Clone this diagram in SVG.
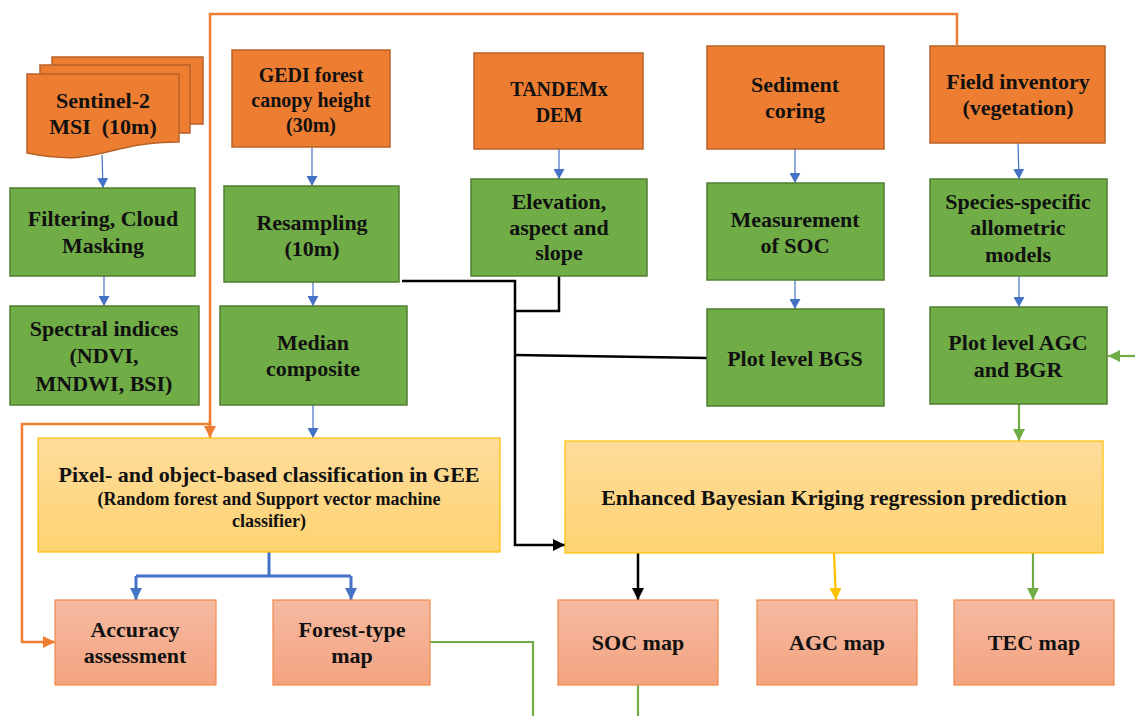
<svg xmlns="http://www.w3.org/2000/svg" width="1135" height="716" viewBox="0 0 1135 716">
<style>
.o{fill:#ED7D31;stroke:#B8622A;stroke-width:1.5}
.g{fill:#70AD47;stroke:#507E32;stroke-width:1.5}
.y{fill:url(#gy);stroke:#FFC000;stroke-width:1.2}
.s{fill:url(#gs);stroke:#F08A4B;stroke-width:1.2}
.t{font-family:"Liberation Serif","Times New Roman",serif;font-weight:bold;font-size:22px;fill:#111;text-anchor:middle}
.cb{stroke:#4472C4;stroke-width:1.2;fill:none;marker-end:url(#ab)}
.cbt{stroke:#4472C4;stroke-width:3;fill:none}
.co{stroke:#ED7D31;stroke-width:2.5;fill:none}
.ck{stroke:#000;stroke-width:2.5;fill:none}
.cg{stroke:#70AD47;stroke-width:2.2;fill:none}
.cy{stroke:#FFC000;stroke-width:2.2;fill:none}
</style>
<defs>
<linearGradient id="gy" x1="0" y1="0" x2="0" y2="1"><stop offset="0" stop-color="#FEDC9B"/><stop offset="1" stop-color="#FED372"/></linearGradient>
<linearGradient id="gs" x1="0" y1="0" x2="0" y2="1"><stop offset="0" stop-color="#F5BAA1"/><stop offset="1" stop-color="#F4A380"/></linearGradient>
<marker id="ab" markerUnits="userSpaceOnUse" markerWidth="11" markerHeight="11" refX="10" refY="5.5" orient="auto"><path d="M0,0 L10,5.5 L0,11 z" fill="#4472C4"/></marker>
<marker id="ao" markerUnits="userSpaceOnUse" markerWidth="13" markerHeight="12" refX="12" refY="6" orient="auto"><path d="M0,0 L12,6 L0,12 z" fill="#ED7D31"/></marker>
<marker id="ak" markerUnits="userSpaceOnUse" markerWidth="13" markerHeight="12" refX="12" refY="6" orient="auto"><path d="M0,0 L12,6 L0,12 z" fill="#000"/></marker>
<marker id="ag" markerUnits="userSpaceOnUse" markerWidth="13" markerHeight="12" refX="12" refY="6" orient="auto"><path d="M0,0 L12,6 L0,12 z" fill="#70AD47"/></marker>
<marker id="ay" markerUnits="userSpaceOnUse" markerWidth="13" markerHeight="12" refX="12" refY="6" orient="auto"><path d="M0,0 L12,6 L0,12 z" fill="#FFC000"/></marker>
<marker id="abt" markerUnits="userSpaceOnUse" markerWidth="13" markerHeight="12" refX="12" refY="6" orient="auto"><path d="M0,0 L12,6 L0,12 z" fill="#4472C4"/></marker>
</defs>
<rect width="1135" height="716" fill="#fff"/>

<g id="connectors">
<path class="co" d="M957,45 V14 H210 V426"/>
<path class="co" d="M210,420 V438" marker-end="url(#ao)"/>
<path class="co" d="M210,424 H22 V642 H55" marker-end="url(#ao)"/>
<path class="cb" d="M102,155 L103,188"/>
<path class="cb" d="M104,276 V306"/>
<path class="cb" d="M312,147 V186"/>
<path class="cb" d="M313,282 V306"/>
<path class="cb" d="M313,405 V438"/>
<path class="cb" d="M559,149 V179"/>
<path class="cb" d="M795,149 V183"/>
<path class="cb" d="M795,280 V309"/>
<path class="cb" d="M1018,143 L1019,179"/>
<path class="cb" d="M1019,276 V307"/>
<path class="cbt" d="M269,552 V576 M136,576 H351"/>
<path class="cbt" d="M136,576 V600" marker-end="url(#abt)"/>
<path class="cbt" d="M351,576 V600" marker-end="url(#abt)"/>
<path class="ck" d="M402,281 H515 V545 H565" marker-end="url(#ak)"/>
<path class="ck" d="M559,276 V311 H515"/>
<path class="ck" d="M707,358 L515,355"/>
<path class="ck" d="M638,553 V600" marker-end="url(#ak)"/>
<path class="cy" d="M834,553 L836,600" marker-end="url(#ay)"/>
<path class="cg" d="M1033,553 V600" marker-end="url(#ag)"/>
<path class="cg" d="M1135,356 H1108" marker-end="url(#ag)"/>
<path class="cg" d="M1019,404 V441" marker-end="url(#ag)"/>
<path class="cg" d="M430,642 H533 V716"/>
<path class="cg" d="M638,685 V716"/>
</g>

<g id="sentinel">
<rect class="o" x="52" y="57" width="151" height="67"/>
<rect class="o" x="40" y="65" width="150" height="68"/>
<path class="o" d="M27,74 H179 V142 C103,142 103,168 27,153 Z"/>
<text class="t"><tspan x="103" y="108">Sentinel-2</tspan><tspan x="103" y="134">MSI&#160; (10m)</tspan></text>
</g>
<g id="filtering">
<rect class="g" x="10" y="188" width="185" height="88"/>
<text class="t"><tspan x="103" y="226">Filtering, Cloud</tspan><tspan x="103" y="253">Masking</tspan></text>
</g>
<g id="spectral">
<rect class="g" x="10" y="306" width="189" height="99"/>
<text class="t"><tspan x="104" y="336">Spectral indices</tspan><tspan x="104" y="363">(NDVI,</tspan><tspan x="104" y="391">MNDWI, BSI)</tspan></text>
</g>
<g id="gedi">
<rect class="o" x="232" y="50" width="158" height="97"/>
<text class="t" style="font-size:20px"><tspan x="311" y="82">GEDI forest</tspan><tspan x="311" y="107">canopy height</tspan><tspan x="311" y="132">(30m)</tspan></text>
</g>
<g id="resampling">
<rect class="g" x="224" y="186" width="175" height="96"/>
<text class="t"><tspan x="312" y="230">Resampling</tspan><tspan x="312" y="256">(10m)</tspan></text>
</g>
<g id="median">
<rect class="g" x="220" y="306" width="187" height="99"/>
<text class="t"><tspan x="313" y="350">Median</tspan><tspan x="313" y="376">composite</tspan></text>
</g>
<g id="tandemx">
<rect class="o" x="474" y="53" width="169" height="96"/>
<text class="t" style="font-size:20px"><tspan x="559" y="96">TANDEMx</tspan><tspan x="559" y="122">DEM</tspan></text>
</g>
<g id="elevation">
<rect class="g" x="471" y="179" width="176" height="97"/>
<text class="t"><tspan x="559" y="209">Elevation,</tspan><tspan x="559" y="235">aspect and</tspan><tspan x="559" y="260">slope</tspan></text>
</g>
<g id="sediment">
<rect class="o" x="707" y="46" width="177" height="103"/>
<text class="t"><tspan x="795" y="92">Sediment</tspan><tspan x="795" y="118">coring</tspan></text>
</g>
<g id="measurement">
<rect class="g" x="707" y="183" width="177" height="97"/>
<text class="t"><tspan x="795" y="227">Measurement</tspan><tspan x="795" y="253">of SOC</tspan></text>
</g>
<g id="bgs">
<rect class="g" x="707" y="309" width="177" height="97"/>
<text class="t"><tspan x="795" y="366">Plot level BGS</tspan></text>
</g>
<g id="field">
<rect class="o" x="930" y="46" width="175" height="97"/>
<text class="t"><tspan x="1018" y="89">Field inventory</tspan><tspan x="1018" y="115">(vegetation)</tspan></text>
</g>
<g id="species">
<rect class="g" x="930" y="179" width="177" height="97"/>
<text class="t"><tspan x="1018" y="209">Species-specific</tspan><tspan x="1018" y="235">allometric</tspan><tspan x="1018" y="262">models</tspan></text>
</g>
<g id="plotagc">
<rect class="g" x="930" y="307" width="177" height="97"/>
<text class="t"><tspan x="1018" y="350">Plot level AGC</tspan><tspan x="1018" y="377">and BGR</tspan></text>
</g>
<g id="pixel">
<rect class="y" x="38" y="438" width="462" height="114"/>
<text class="t"><tspan x="269" y="482">Pixel- and object-based classification in GEE</tspan></text>
<text class="t" style="font-size:18px"><tspan x="269" y="505">(Random forest and Support vector machine</tspan><tspan x="269" y="527">classifier)</tspan></text>
</g>
<g id="kriging">
<rect class="y" x="565" y="441" width="538" height="112"/>
<text class="t"><tspan x="834" y="505">Enhanced Bayesian Kriging regression prediction</tspan></text>
</g>
<g id="accuracy">
<rect class="s" x="55" y="600" width="161" height="85"/>
<text class="t"><tspan x="135" y="637">Accuracy</tspan><tspan x="135" y="663">assessment</tspan></text>
</g>
<g id="foresttype">
<rect class="s" x="273" y="600" width="157" height="85"/>
<text class="t"><tspan x="352" y="637">Forest-type</tspan><tspan x="352" y="663">map</tspan></text>
</g>
<g id="socmap">
<rect class="s" x="558" y="600" width="160" height="85"/>
<text class="t"><tspan x="638" y="650">SOC map</tspan></text>
</g>
<g id="agcmap">
<rect class="s" x="757" y="600" width="160" height="85"/>
<text class="t"><tspan x="837" y="650">AGC map</tspan></text>
</g>
<g id="tecmap">
<rect class="s" x="954" y="600" width="160" height="85"/>
<text class="t"><tspan x="1034" y="650">TEC map</tspan></text>
</g>
</svg>
